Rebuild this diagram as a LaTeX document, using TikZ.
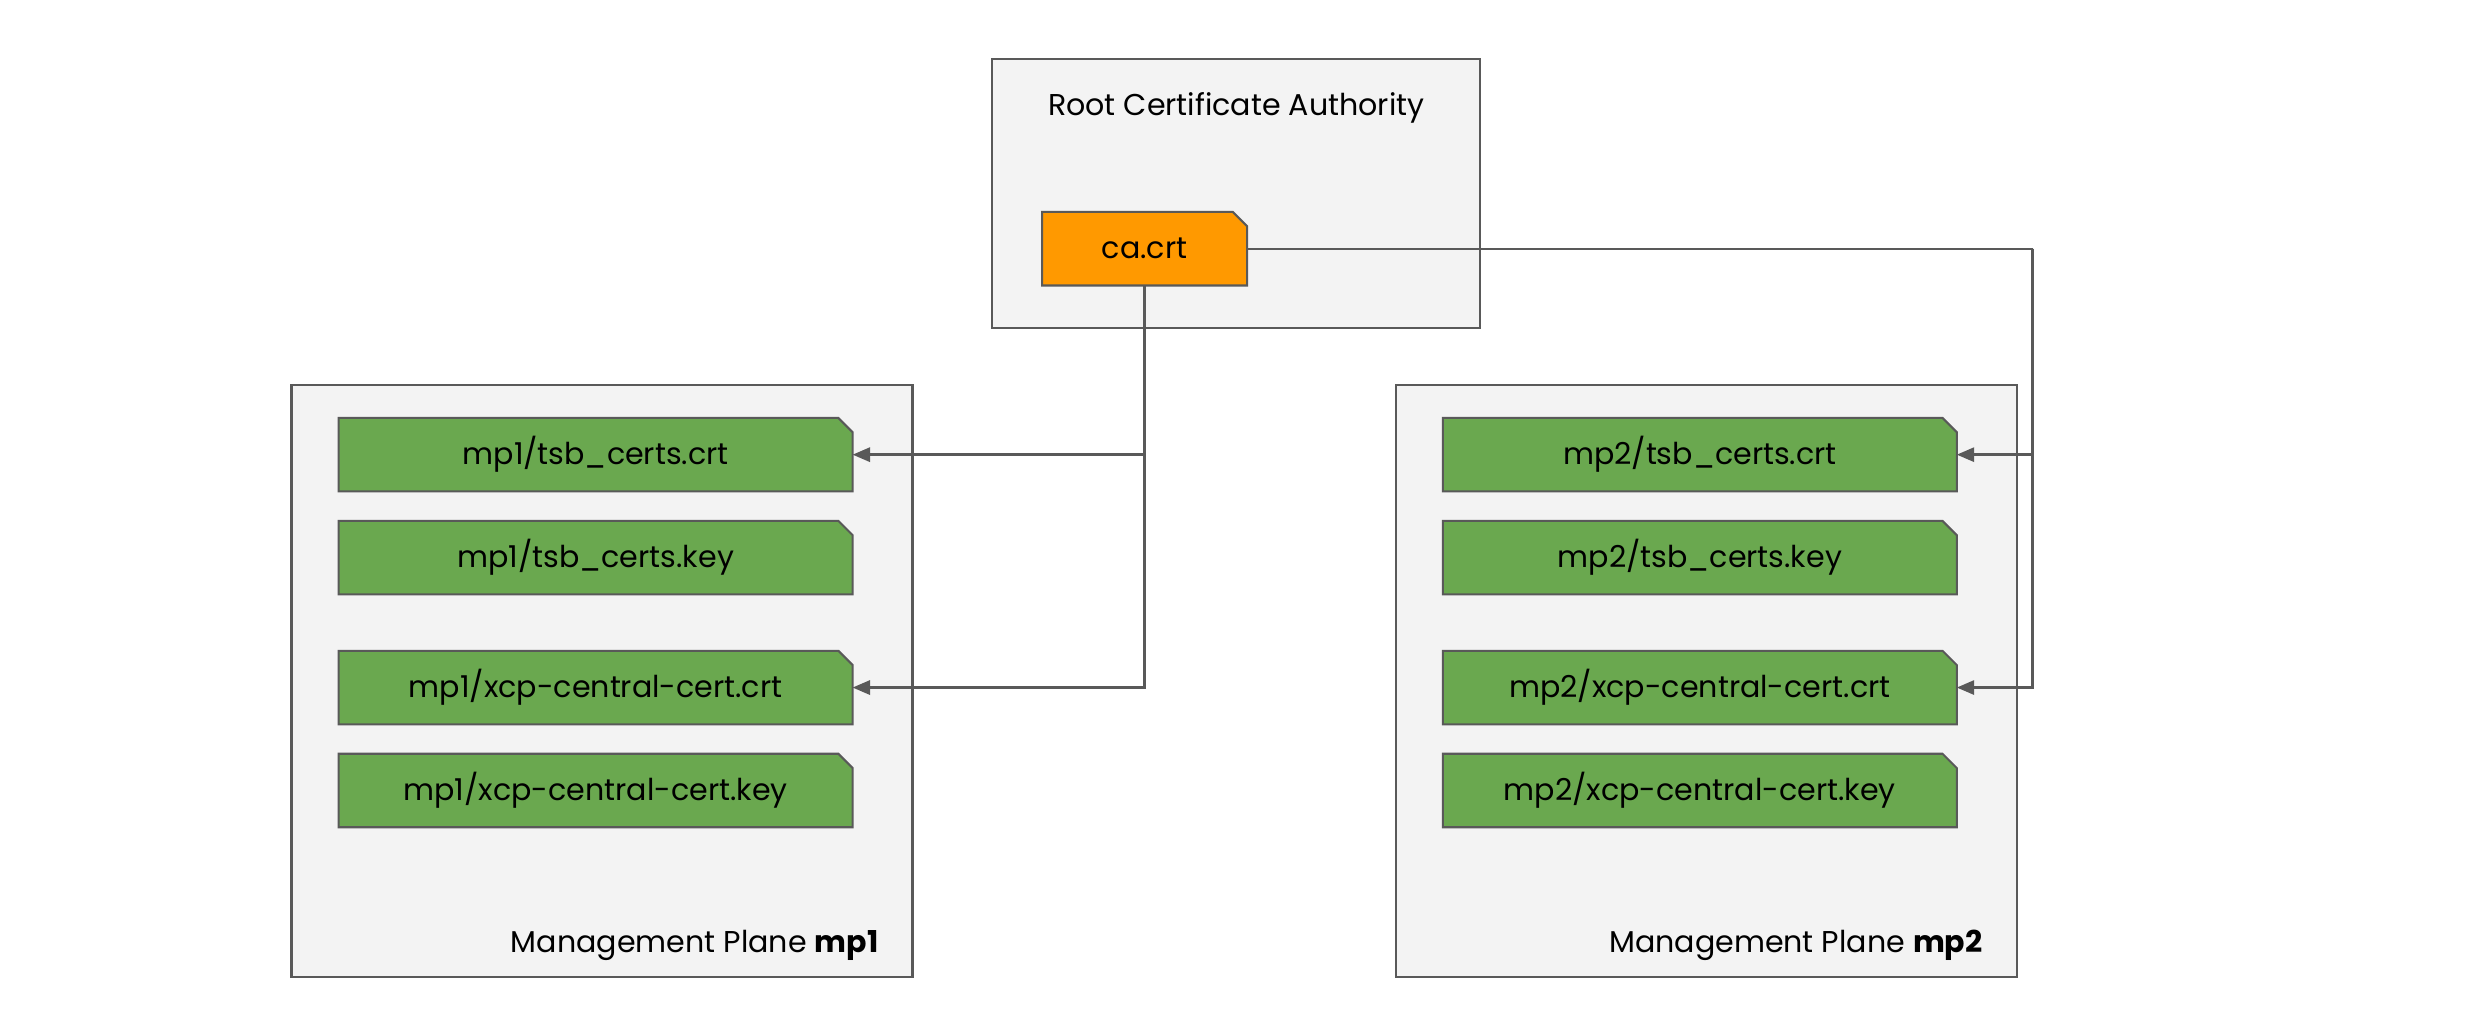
\documentclass[tikz,border=0pt]{standalone}
\usepackage{fontspec}
\setmainfont{Poppins}
\usetikzlibrary{positioning,arrows.meta}
\definecolor{panelgray}{HTML}{F3F3F3}
\definecolor{linegray}{HTML}{595959}
\definecolor{certgreen}{HTML}{6AA84F}
\definecolor{caorange}{HTML}{FF9900}
\pgfdeclarelayer{back}
\pgfdeclarelayer{shapes}
\pgfsetlayers{back,shapes,main}
\begin{document}
\begin{tikzpicture}[x=1pt,y=-1pt,
    panel/.style={draw=linegray,fill=panelgray,line width=1.3pt},
    certfile/.style={minimum width=324pt,minimum height=46pt,inner sep=0pt,font=\fontsize{19}{22}\selectfont},
    link/.style={draw=linegray,line width=1.5pt},
    arrowlink/.style={link,-{Triangle[length=11pt,width=9pt]}}]

    \newcommand*{\foldsize}{9}%
    \newcommand*{\docoutline}[2]{%
      \begin{pgfonlayer}{shapes}
      \path[draw=linegray,fill=#2,line width=1.3pt] (#1.south west) -- (#1.north west)
        -- ([xshift=-\foldsize pt]#1.north east) -- ([yshift=-\foldsize pt]#1.north east)
        -- (#1.south east) -- cycle;
      \end{pgfonlayer}}%

    \useasboundingbox (0,0) rectangle (1568,645);

    % panels
    \begin{pgfonlayer}{back}
    \path[panel] (626,37) rectangle (934,207);
    \path[panel] (184,243) rectangle (576,617);
    \path[panel] (881,243) rectangle (1273,617);
    \end{pgfonlayer}

    \node[anchor=west,font=\fontsize{19}{22}\selectfont] (rootlabel) at (658,68) {Root Certificate Authority};
    \node[anchor=east,font=\fontsize{19}{22}\selectfont] (mplabel1) at (558,597) {Management Plane \textbf{mp1}};
    \node[anchor=east,font=\fontsize{19}{22}\selectfont] (mplabel2) at (1255,597) {Management Plane \textbf{mp2}};

    % ca certificate
    \node[certfile,minimum width=129pt] (ca) at (722.5,157) {ca.crt};
    \docoutline{ca}{caorange}

    % management plane files
    \foreach \mp/\cx in {1/376,2/1073}
    {
      \node[certfile] (tsbcrt\mp) at (\cx,287) {mp\mp/tsb\_certs.crt};
      \node[certfile] (tsbkey\mp) at (\cx,352) {mp\mp/tsb\_certs.key};
      \node[certfile] (xcpcrt\mp) at (\cx,434) {mp\mp/xcp-central-cert.crt};
      \node[certfile] (xcpkey\mp) at (\cx,499) {mp\mp/xcp-central-cert.key};
      \docoutline{tsbcrt\mp}{certgreen}
      \docoutline{tsbkey\mp}{certgreen}
      \docoutline{xcpcrt\mp}{certgreen}
      \docoutline{xcpkey\mp}{certgreen}
    }

    % links to mp1
    \draw[arrowlink] (ca.south) |- (tsbcrt1.east);
    \draw[arrowlink] (ca.south) |- (xcpcrt1.east);

    % links to mp2
    \coordinate (bend) at (1283,157);
    \draw[link] (ca.east) -- (bend);
    \draw[arrowlink] (bend) |- (tsbcrt2.east);
    \draw[arrowlink] (bend) |- (xcpcrt2.east);

\end{tikzpicture}
\end{document}
